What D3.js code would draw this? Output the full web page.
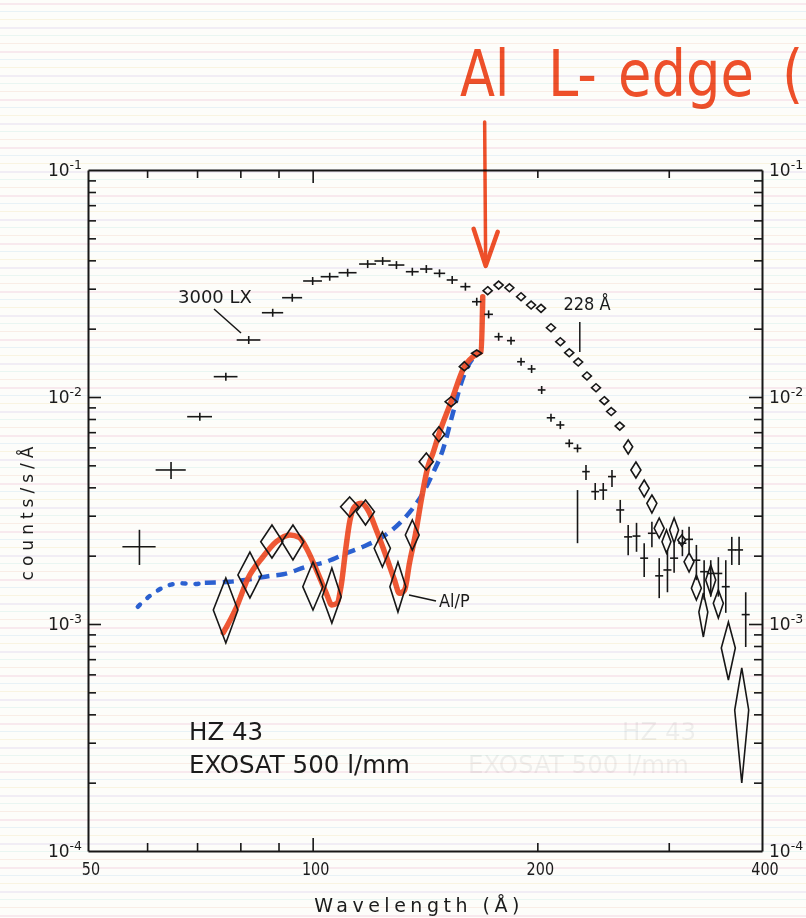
<!doctype html>
<html lang="en">
<head>
<meta charset="utf-8">
<title>HZ 43 EXOSAT 500 l/mm</title>
<style>
  html, body { margin: 0; padding: 0; background: #fdfdfa; }
  svg { display: block; }
  text { font-family: "DejaVu Sans", sans-serif; fill: #1b1b1b; }
</style>
</head>
<body>
<div id="output"></div>
<script src="https://d3js.org/d3.v7.min.js"></script>
<script>
// 3000 LX filter: bin centre (A), half bin (A), counts/s/A and error bar
var lxWave = [58.6, 64.6, 70.6, 76.5, 82.1, 88.4, 93.9, 100.0, 105.4, 111.4,
  118.5, 124.1, 129.5, 136.0, 142.0, 147.9, 153.8, 160.2, 165.9, 172.1,
  177.5, 184.4, 190.2, 196.5, 202.7, 208.6, 214.7, 220.7, 226.4, 232.4,
  226.4, 239.1, 245.1, 251.8, 258.3, 264.7, 271.6, 278.1, 284.8, 291.3,
  298.8, 305.0, 312.9, 319.4, 326.7, 334.6, 341.5, 349.6, 357.7, 364.4,
  372.7, 380.4];
var lxHalf = [3.0, 3.0, 2.7, 2.8, 3.0, 2.9, 2.9, 2.9, 2.9, 3.1,
  3.1, 3.1, 3.2, 2.7, 2.7, 2.6, 2.6, 2.5, 2.4, 2.3,
  2.3, 2.3, 2.3, 2.4, 2.4, 2.7, 2.7, 2.7, 2.7, 2.7,
  0, 2.9, 3.0, 3.1, 3.2, 3.3, 3.3, 3.4, 3.5, 3.6,
  3.7, 3.8, 3.9, 3.9, 4.0, 4.1, 4.2, 4.3, 4.4, 4.5,
  4.6, 4.7];
var lxCounts = [2.19e-3, 4.77e-3, 8.19e-3, 0.01229, 0.01783, 0.02351, 0.02738, 0.03244, 0.03388, 0.03528,
  0.03853, 0.03973, 0.03814, 0.03564, 0.03663, 0.03506, 0.03277, 0.03062, 0.02629, 0.02313,
  0.01843, 0.01771, 0.01430, 0.01329, 0.01074, 8.10e-3, 7.53e-3, 6.25e-3, 5.94e-3, 4.69e-3,
  2.96e-3, 3.83e-3, 3.89e-3, 4.46e-3, 3.18e-3, 2.42e-3, 2.44e-3, 1.95e-3, 2.51e-3, 1.63e-3,
  1.73e-3, 1.95e-3, 2.27e-3, 2.36e-3, 1.91e-3, 1.70e-3, 1.67e-3, 1.67e-3, 1.46e-3, 2.12e-3,
  2.12e-3, 1.10e-3];
var lxLow = [1.82e-3, 4.35e-3, 7.86e-3, 0.0118, 0.01712, 0.02257, 0.02628, 0.03114, 0.03252, 0.03387,
  0.03699, 0.03814, 0.03661, 0.03421, 0.03516, 0.03366, 0.03146, 0.02940, 0.02524, 0.02220,
  0.01769, 0.01700, 0.01373, 0.01276, 0.01031, 7.78e-3, 7.22e-3, 6.00e-3, 5.70e-3, 4.31e-3,
  2.27e-3, 3.52e-3, 3.52e-3, 4.01e-3, 2.79e-3, 2.01e-3, 2.08e-3, 1.61e-3, 2.18e-3, 1.30e-3,
  1.38e-3, 1.68e-3, 1.99e-3, 2.06e-3, 1.56e-3, 1.28e-3, 1.32e-3, 1.32e-3, 1.12e-3, 1.82e-3,
  1.82e-3, 7.92e-4];
var lxHigh = [2.60e-3, 5.17e-3, 8.53e-3, 0.0128, 0.01856, 0.02447, 0.02850, 0.03377, 0.03527, 0.03673,
  0.04011, 0.04136, 0.03970, 0.03710, 0.03813, 0.03650, 0.03411, 0.03188, 0.02737, 0.02408,
  0.01919, 0.01844, 0.01489, 0.01383, 0.01118, 8.44e-3, 7.83e-3, 6.51e-3, 6.19e-3, 5.02e-3,
  3.89e-3, 4.18e-3, 4.18e-3, 4.77e-3, 3.52e-3, 2.73e-3, 2.79e-3, 2.27e-3, 2.82e-3, 1.95e-3,
  2.12e-3, 2.27e-3, 2.60e-3, 2.68e-3, 2.23e-3, 1.91e-3, 1.91e-3, 1.97e-3, 1.91e-3, 2.42e-3,
  2.42e-3, 1.38e-3];

// Al/P filter: diamonds, same layout
var diaWave = [76.5, 82.4, 88.2, 94.1, 100.1, 106.1, 112.1, 117.7, 124.0, 130.1,
  136.0, 142.0, 147.6, 153.3, 159.7, 165.9, 171.6, 177.5, 183.5, 190.2,
  196.2, 202.3, 208.6, 214.7, 220.7, 226.9, 233.1, 239.7, 245.9, 251.2,
  257.9, 264.7, 271.1, 278.1, 284.8, 291.3, 297.9, 305.0, 312.3, 319.4,
  326.7, 333.8, 341.5, 349.6, 360.6, 375.8];
var diaHalf = [2.9, 3.0, 3.0, 3.2, 3.1, 3.1, 3.1, 3.3, 3.1, 3.2,
  2.9, 3.1, 2.7, 2.8, 2.5, 2.6, 2.4, 2.5, 2.5, 2.6,
  2.7, 2.8, 2.9, 3.0, 3.1, 3.1, 3.2, 3.3, 3.4, 3.5,
  3.6, 3.7, 4.2, 4.3, 4.4, 4.5, 4.1, 4.2, 3.8, 4.9,
  5.0, 4.6, 5.3, 5.4, 7.8, 8.1];
var diaCounts = [1.152e-3, 1.644e-3, 2.304e-3, 2.304e-3, 1.460e-3, 1.319e-3, 3.286e-3, 3.124e-3, 2.156e-3, 1.460e-3,
  2.466e-3, 5.188e-3, 6.848e-3, 9.535e-3, 0.01360, 0.01558, 0.02940, 0.03113, 0.03029, 0.02766,
  0.02543, 0.02459, 0.02019, 0.01752, 0.01567, 0.01426, 0.01238, 0.01099, 9.632e-3, 8.631e-3,
  7.449e-3, 6.039e-3, 4.770e-3, 3.961e-3, 3.401e-3, 2.640e-3, 2.304e-3, 2.595e-3, 2.344e-3, 1.881e-3,
  1.437e-3, 1.129e-3, 1.563e-3, 1.234e-3, 7.839e-4, 4.180e-4];
var diaLow = [8.25e-4, 1.302e-3, 1.953e-3, 1.914e-3, 1.152e-3, 1.010e-3, 2.960e-3, 2.730e-3, 1.782e-3, 1.129e-3,
  2.118e-3, 4.770e-3, 6.353e-3, 9.064e-3, 0.01306, 0.01505, 0.02822, 0.02988, 0.02908, 0.02655,
  0.02441, 0.02361, 0.01938, 0.01682, 0.01504, 0.01369, 0.01188, 0.01055, 9.25e-3, 8.29e-3,
  7.15e-3, 5.608e-3, 4.396e-3, 3.626e-3, 3.083e-3, 2.392e-3, 2.055e-3, 2.274e-3, 2.206e-3, 1.695e-3,
  1.276e-3, 8.766e-4, 1.342e-3, 1.063e-3, 5.666e-4, 1.993e-4];
var diaHigh = [1.594e-3, 2.075e-3, 2.730e-3, 2.730e-3, 1.875e-3, 1.765e-3, 3.626e-3, 3.517e-3, 2.543e-3, 1.875e-3,
  2.872e-3, 5.665e-3, 7.396e-3, 0.01003, 0.01430, 0.01611, 0.03061, 0.03241, 0.03153, 0.02879,
  0.02647, 0.02560, 0.02102, 0.01824, 0.01631, 0.01484, 0.01289, 0.01144, 0.01003, 8.98e-3,
  7.75e-3, 6.464e-3, 5.172e-3, 4.308e-3, 3.700e-3, 2.931e-3, 2.595e-3, 2.931e-3, 2.466e-3, 2.055e-3,
  1.644e-3, 1.369e-3, 1.819e-3, 1.412e-3, 1.020e-3, 6.401e-4];

// hand drawn red curve through the Al/P points
var fitWave = [75.9, 79.1, 81.9, 85.8, 89.4, 93.2, 95.9, 98.1, 101.2, 104.3,
  106.1, 107.8, 109.3, 110.7, 112.1, 113.8, 116.2, 118.6, 121.7, 125.5,
  128.7, 130.7, 132.8, 134.8, 137.4, 139.8, 142.7, 144.9, 147.6, 153.3,
  159.7, 165.9, 168.2, 169.0];
var fitCounts = [9.16e-4, 1.191e-3, 1.589e-3, 1.979e-3, 2.304e-3, 2.466e-3, 2.409e-3, 2.156e-3, 1.729e-3, 1.365e-3,
  1.213e-3, 1.234e-3, 1.511e-3, 2.118e-3, 2.824e-3, 3.286e-3, 3.401e-3, 3.178e-3, 2.595e-3, 1.979e-3,
  1.563e-3, 1.365e-3, 1.412e-3, 1.851e-3, 2.509e-3, 3.517e-3, 4.932e-3, 5.649e-3, 6.848e-3, 9.535e-3,
  0.01360, 0.01547, 0.01584, 0.02766];

// hand drawn blue dashed curve (first six points dotted)
var blueWave = [58.3, 60.5, 63.4, 66.4, 69.2, 71.7, 77.4, 82.4, 87.6, 91.3,
  98.1, 104.3, 110.9, 116.8, 124.2, 130.7, 136.2, 140.5, 144.9, 149.4,
  154.1, 158.1, 162.2, 165.6];
var blueCounts = [1.191e-3, 1.329e-3, 1.460e-3, 1.511e-3, 1.500e-3, 1.520e-3, 1.535e-3, 1.573e-3, 1.628e-3, 1.656e-3,
  1.788e-3, 1.881e-3, 2.049e-3, 2.190e-3, 2.424e-3, 2.777e-3, 3.233e-3, 3.765e-3, 4.613e-3, 5.842e-3,
  8.475e-3, 0.01149, 0.01408, 0.01531];

var xTickLabels = [50, 100, 200, 400];
var xMinorTicks = [60, 70, 80, 90, 200, 300];
var xMajorTicks = [100];
var yTickLabels = [1e-4, 1e-3, 1e-2, 1e-1];
var yExponents = ["-4", "-3", "-2", "-1"];

var width = 806, height = 918;
var ink = "#171717";
var red = "#f0502a";
var blue = "#2b62d6";

var x = d3.scaleLog().domain([50, 400]).range([88, 762]);
var y = d3.scaleLog().domain([1e-4, 1e-1]).range([851, 170]);

var svg = d3.select("#output").append("svg")
    .attr("width", width)
    .attr("height", height);

// scanned paper
svg.append("rect").attr("width", width).attr("height", height).attr("fill", "#fdfdfa");
var stripeColors = ["#f3d2e1", "#cfe5f3", "#f5eac4", "#e3daf1", "#d2eeea", "#f6dbcf"];
var stripes = svg.append("g").attr("opacity", 0.45);
for (var sy = 3, k = 0; sy < height; sy += 8, k++) {
    stripes.append("rect")
        .attr("x", 0).attr("y", sy)
        .attr("width", width)
        .attr("height", k % 3 === 0 ? 2 : 1)
        .attr("fill", stripeColors[k % stripeColors.length]);
}

// show-through from the other side of the page
var ghost = svg.append("g").attr("opacity", 0.06);
ghost.append("text").attr("x", 622).attr("y", 740).attr("font-size", 24.5).text("HZ 43");
ghost.append("text").attr("x", 468).attr("y", 773).attr("font-size", 24.5).text("EXOSAT 500 l/mm");

function label(parent, px, py, str, size, anchor, sx, spacing) {
    return parent.append("text")
        .attr("transform", "translate(" + px + "," + py + ") scale(" + (sx || 1) + ",1)")
        .attr("text-anchor", anchor || "start")
        .attr("font-size", size)
        .attr("letter-spacing", spacing || 0)
        .text(str);
}

var lx = lxWave.map(function (w, i) {
    return { w: w, h: lxHalf[i], c: lxCounts[i], lo: lxLow[i], hi: lxHigh[i] };
});
var dia = diaWave.map(function (w, i) {
    return { w: w, h: diaHalf[i], c: diaCounts[i], lo: diaLow[i], hi: diaHigh[i] };
});

var line = d3.line()
    .x(function (d) { return x(d[0]); })
    .y(function (d) { return y(d[1]); })
    .curve(d3.curveMonotoneX);

var bluePts = blueWave.map(function (w, i) { return [w, blueCounts[i]]; });
var fitPts = fitWave.map(function (w, i) { return [w, fitCounts[i]]; });

var pen = svg.append("g").style("mix-blend-mode", "multiply");
pen.append("path")
    .attr("d", line(bluePts.slice(0, 6)))
    .attr("fill", "none").attr("stroke", blue).attr("stroke-width", 4.5)
    .attr("stroke-linecap", "round").attr("stroke-dasharray", "3,10");
pen.append("path")
    .attr("d", line(bluePts.slice(5)))
    .attr("fill", "none").attr("stroke", blue).attr("stroke-width", 4.5)
    .attr("stroke-dasharray", "11,7");

// printed data points
var diamonds = svg.append("g")
    .attr("fill", "none").attr("stroke", ink).attr("stroke-width", 1.6)
    .attr("stroke-linejoin", "miter");
diamonds.selectAll("path")
    .data(dia)
    .enter()
    .append("path")
    .attr("d", function (d) {
        return "M" + x(d.w) + "," + y(d.hi) +
            "L" + x(d.w + d.h) + "," + y(d.c) +
            "L" + x(d.w) + "," + y(d.lo) +
            "L" + x(d.w - d.h) + "," + y(d.c) + "Z";
    });

var crosses = svg.append("g")
    .attr("stroke", ink).attr("stroke-width", 1.6);
var cross = crosses.selectAll("g")
    .data(lx)
    .enter()
    .append("g");
cross.append("line")
    .attr("x1", function (d) { return x(d.w); })
    .attr("x2", function (d) { return x(d.w); })
    .attr("y1", function (d) { return y(d.hi); })
    .attr("y2", function (d) { return y(d.lo); });
cross.filter(function (d) { return d.h > 0; })
    .append("line")
    .attr("x1", function (d) { return x(d.w - d.h); })
    .attr("x2", function (d) { return x(d.w + d.h); })
    .attr("y1", function (d) { return y(d.c); })
    .attr("y2", function (d) { return y(d.c); });

// red marker line on top
pen.append("path")
    .attr("d", line(fitPts))
    .attr("fill", "none").attr("stroke", red).attr("stroke-width", 5.5)
    .attr("stroke-linecap", "round").attr("stroke-linejoin", "round")
    .attr("opacity", 0.95);

// frame and inward ticks
var yMinorTicks = [];
[1e-4, 1e-3, 1e-2].forEach(function (dec) {
    d3.range(2, 10).forEach(function (m) { yMinorTicks.push(m * dec); });
});
var yMajorTicks = [1e-3, 1e-2];

function ticked(axis, values, size) {
    return axis.tickValues(values).tickSize(size).tickSizeOuter(0).tickFormat("");
}
var axes = [
    [d3.axisBottom, "translate(0," + y(1e-4) + ")", x, xMinorTicks, xMajorTicks],
    [d3.axisTop, "translate(0," + y(1e-1) + ")", x, xMinorTicks, xMajorTicks],
    [d3.axisLeft, "translate(" + x(50) + ",0)", y, yMinorTicks, yMajorTicks],
    [d3.axisRight, "translate(" + x(400) + ",0)", y, yMinorTicks, yMajorTicks]
];
axes.forEach(function (a) {
    var gMinor = svg.append("g").attr("transform", a[1])
        .call(ticked(a[0](a[2]), a[3], -8));
    var gMajor = svg.append("g").attr("transform", a[1])
        .call(ticked(a[0](a[2]), a[4], -13));
    gMajor.select(".domain").remove();
    [gMinor, gMajor].forEach(function (g) {
        g.selectAll(".tick line").attr("stroke", ink).attr("stroke-width", 1.6);
        g.select(".domain").attr("stroke", ink).attr("stroke-width", 2);
    });
});

var labels = svg.append("g");
xTickLabels.forEach(function (v) {
    label(labels, x(v) + 3, 875, String(v), 18, "middle", 0.8);
});
yTickLabels.forEach(function (v, i) {
    var t = labels.append("text")
        .attr("transform", "translate(82," + (y(v) + 6) + ")")
        .attr("text-anchor", "end");
    t.append("tspan").attr("font-size", 17).text("10");
    t.append("tspan").attr("font-size", 12.5).attr("dy", -7).text(yExponents[i]);
    var r = labels.append("text")
        .attr("transform", "translate(769," + (y(v) + 6) + ")");
    r.append("tspan").attr("font-size", 17).text("10");
    r.append("tspan").attr("font-size", 12.5).attr("dy", -7).text(yExponents[i]);
});

label(labels, 419, 912, "Wavelength (\u00c5)", 19, "middle", 1, 4.5);
labels.append("text")
    .attr("transform", "translate(33,511) rotate(-90)")
    .attr("text-anchor", "middle")
    .attr("font-size", 17)
    .attr("letter-spacing", 5)
    .text("counts/s/\u00c5");

// printed annotations
var note = svg.append("g").attr("stroke", ink).attr("stroke-width", 1.5);
label(labels, 178, 303, "3000 LX", 18, "start", 1);
note.append("line").attr("x1", 214).attr("y1", 309).attr("x2", 241).attr("y2", 333);
label(labels, 587, 310, "228 \u00c5", 18, "middle", 0.9);
note.append("line").attr("x1", x(228)).attr("x2", x(228)).attr("y1", 322).attr("y2", 352);
label(labels, 439, 607, "Al/P", 17, "start", 0.95);
note.append("line").attr("x1", 409).attr("y1", 595).attr("x2", 436).attr("y2", 601);
label(labels, 189, 740, "HZ 43", 24.5, "start", 1);
label(labels, 189, 773, "EXOSAT 500 l/mm", 24.5, "start", 1);

// handwritten note and arrow at the Al L edge (170 A)
var hand = svg.append("g").style("mix-blend-mode", "multiply");
[["Al", 460, 0.8], ["L-", 548, 0.85], ["edge", 618, 0.85], ["(", 782, 0.85]].forEach(function (p) {
    label(hand, p[1], 96, p[0], 64, "start", p[2]).style("fill", red);
});
var ax = x(170);
hand.append("line")
    .attr("x1", ax).attr("x2", ax + 1)
    .attr("y1", 122).attr("y2", y(0.0378))
    .attr("stroke", red).attr("stroke-width", 3.5).attr("stroke-linecap", "round");
hand.append("path")
    .attr("d", "M" + (ax - 11) + "," + (y(0.0378) - 37) + "L" + (ax + 1) + "," + y(0.0378) + "L" + (ax + 13) + "," + (y(0.0378) - 34))
    .attr("fill", "none").attr("stroke", red).attr("stroke-width", 4.5)
    .attr("stroke-linecap", "round").attr("stroke-linejoin", "round");
</script>
</body>
</html>
